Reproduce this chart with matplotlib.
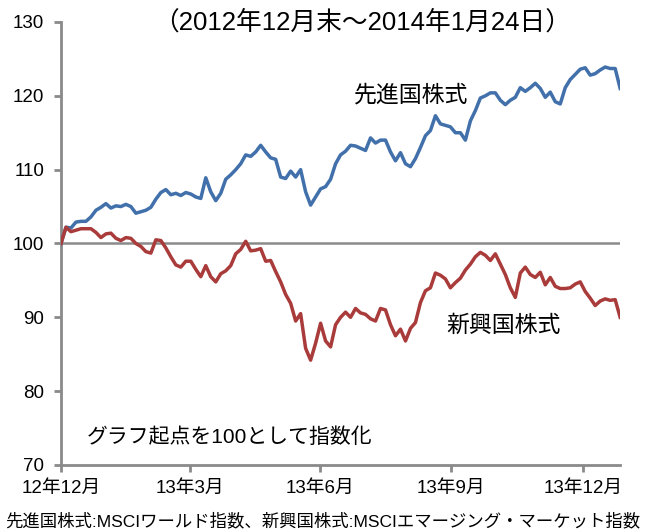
import matplotlib
matplotlib.use("Agg")
import matplotlib.pyplot as plt
import numpy as np

plt.rcParams['font.family'] = ['Liberation Sans', 'Noto Sans CJK JP', 'DejaVu Sans']

# index values, roughly every 2-3 trading days
developed = [100.0, 102.2, 102.1, 102.9, 103.0, 103.0, 103.6, 104.5, 104.9, 105.4,
             104.8, 105.1, 105.0, 105.3, 105.0, 104.1, 104.3, 104.5, 104.9, 106.0,
             106.9, 107.3, 106.6, 106.8, 106.5, 106.9, 106.7, 106.3, 106.1, 108.9,
             107.0, 105.8, 106.8, 108.7, 109.3, 110.0, 110.8, 112.0, 111.8, 112.4,
             113.3, 112.4, 111.6, 111.4, 109.0, 108.8, 109.8, 109.0, 110.0, 107.0,
             105.2, 106.3, 107.4, 107.7, 108.7, 110.8, 112.0, 112.5, 113.3, 113.2,
             112.9, 112.6, 114.3, 113.6, 114.0, 114.0, 112.4, 111.2, 112.3, 110.8,
             110.4, 111.5, 113.0, 114.6, 115.3, 117.3, 116.2, 116.0, 115.8, 115.0,
             115.0, 114.0, 116.6, 118.0, 119.7, 120.0, 120.4, 120.4, 119.4, 118.8,
             119.4, 119.8, 121.1, 120.6, 121.1, 121.7, 121.0, 119.8, 120.5, 119.2,
             118.9, 121.1, 122.2, 122.9, 123.6, 123.8, 122.8, 123.0, 123.5, 123.9,
             123.7, 123.7, 121.0]
emerging = [100.0, 102.2, 101.6, 101.8, 102.0, 102.0, 102.0, 101.5, 100.8, 101.3,
            101.4, 100.7, 100.4, 100.8, 100.7, 100.0, 99.6, 98.9, 98.7, 100.5,
            100.4, 99.4, 98.2, 97.1, 96.8, 97.6, 97.6, 96.5, 95.5, 97.0,
            95.5, 94.8, 95.9, 96.3, 97.0, 98.6, 99.2, 100.3, 99.0, 99.1,
            99.3, 97.6, 97.7, 96.2, 94.8, 93.1, 91.9, 89.5, 90.5, 85.8,
            84.2, 86.5, 89.2, 86.8, 86.0, 89.0, 90.0, 90.7, 90.0, 91.2,
            90.6, 90.4, 89.8, 89.5, 91.2, 91.0, 89.0, 87.5, 88.4, 86.8,
            88.5, 89.3, 92.0, 93.6, 94.0, 96.0, 95.7, 95.2, 94.0, 94.7,
            95.3, 96.4, 97.2, 98.2, 98.8, 98.4, 97.7, 98.6, 97.2, 95.8,
            94.0, 92.7, 96.0, 96.8, 95.8, 95.4, 96.1, 94.4, 95.4, 94.2,
            93.9, 93.9, 94.0, 94.5, 94.8, 93.5, 92.6, 91.6, 92.2, 92.5,
            92.3, 92.4, 90.0]

tick_pos = [0, 25.8, 51.8, 78.2, 104.6]
tick_labels = ['12年12月', '13年3月', '13年6月', '13年9月', '13年12月']

x = np.arange(len(developed))

fig = plt.figure(figsize=(6.46, 5.31), dpi=100)
ax = fig.add_axes([0.0944, 0.1243, 0.8656, 0.8343])

gray = '#8a8a8a'
ax.axhline(100, color=gray, lw=1.8, zorder=1)
ax.plot(x, developed, color='#4170ab', lw=2.5, zorder=3)
ax.plot(x, emerging, color='#aa3b3b', lw=2.5, zorder=3)

ax.set_xlim(0, len(developed) - 1)
ax.set_ylim(70, 130)
ax.set_yticks(range(70, 131, 10))
ax.set_xticks(tick_pos)
ax.set_xticklabels(tick_labels)

for side in ['top', 'right']:
    ax.spines[side].set_visible(False)
for side in ['left', 'bottom']:
    ax.spines[side].set_color(gray)
    ax.spines[side].set_linewidth(2.0)
ax.tick_params(axis='both', color=gray, width=2.0, length=5, labelsize=13.5)
ax.tick_params(axis='y', pad=7)
ax.tick_params(axis='x', pad=6)

fig.text(0.560, 0.958, '（2012年12月末～2014年1月24日）', ha='center', va='center', fontsize=18.5)
ax.text(0.626, 0.835, '先進国株式', transform=ax.transAxes, ha='center', va='center', fontsize=16.5)
ax.text(0.792, 0.316, '新興国株式', transform=ax.transAxes, ha='center', va='center', fontsize=16.5)
ax.text(0.047, 0.062, 'グラフ起点を100として指数化', transform=ax.transAxes, ha='left', va='center', fontsize=15)
fig.text(0.5, 0.019, '先進国株式:MSCIワールド指数、新興国株式:MSCIエマージング・マーケット指数',
         ha='center', va='center', fontsize=12.5)

fig.savefig('out.png', dpi=100)
